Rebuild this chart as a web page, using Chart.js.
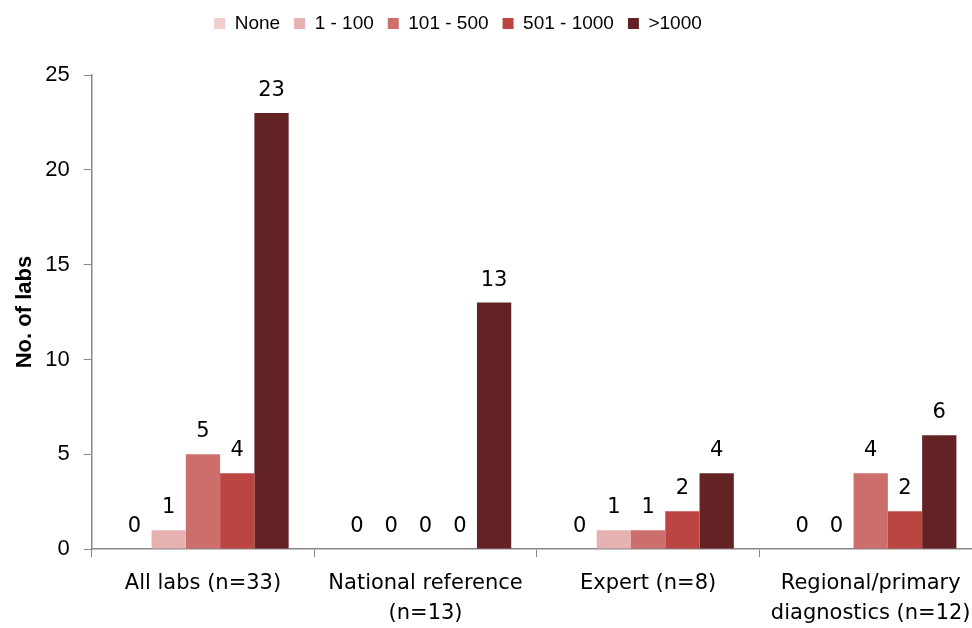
<!DOCTYPE html>
<html>
<head>
<meta charset="utf-8">
<script src="https://cdn.jsdelivr.net/npm/chart.js@4"></script>
<style>
  html, body { margin: 0; padding: 0; background: #fff; overflow: hidden; }
  #wrap { width: 990px; height: 640px; }
</style>
</head>
<body>
<div id="wrap"><canvas id="labsChart"></canvas></div>
<script>
const categories = [
  "All labs (n=33)",
  ["National reference", "(n=13)"],
  "Expert (n=8)",
  ["Regional/primary", "diagnostics (n=12)"]
];
const seriesNames = ["None", "1 - 100", "101 - 500", "501 - 1000", ">1000"];
const noneVals = [0, 0, 0, 0];
const upTo100 = [1, 0, 1, 0];
const upTo500 = [5, 0, 1, 4];
const upTo1000 = [4, 0, 2, 2];
const over1000 = [23, 13, 4, 6];
const yTicks = [0, 5, 10, 15, 20, 25];

const seriesColors = ["#f2cdcd", "#e6b1b0", "#cc6e6c", "#bc4542", "#632325"];
const seriesValues = [noneVals, upTo100, upTo500, upTo1000, over1000];

// writes each bar's value just above it (zeros included)
const valueLabels = {
  id: "valueLabels",
  afterDatasetsDraw(chart) {
    const ctx = chart.ctx;
    ctx.save();
    ctx.font = "21px 'DejaVu Sans'";
    ctx.fillStyle = "#000";
    ctx.textAlign = "center";
    ctx.textBaseline = "alphabetic";
    chart.data.datasets.forEach((ds, i) => {
      chart.getDatasetMeta(i).data.forEach((bar, j) => {
        ctx.fillText(String(ds.data[j]), bar.x, bar.y - 17);
      });
    });
    ctx.restore();
  }
};

// extra room under the legend, and nudge it left of centre
const legendTweak = {
  id: "legendTweak",
  beforeInit(chart) {
    const fit = chart.legend.fit;
    chart.legend.fit = function () {
      fit.call(this);
      this.height += 32;
    };
  },
  afterLayout(chart) {
    chart.legend.left -= 42;
    chart.legend.right -= 42;
  }
};

const ctx = document.getElementById("labsChart").getContext("2d");

new Chart(ctx, {
  type: "bar",
  data: {
    labels: categories,
    datasets: seriesNames.map((name, i) => ({
      label: name,
      data: seriesValues[i],
      backgroundColor: seriesColors[i],
      borderWidth: 0
    }))
  },
  options: {
    responsive: true,
    maintainAspectRatio: false,
    animation: false,
    layout: { padding: { top: 0, right: 8, bottom: 0, left: 18 } },
    categoryPercentage: 0.77,
    barPercentage: 1,
    plugins: {
      legend: {
        position: "top",
        labels: {
          boxWidth: 11,
          boxHeight: 11,
          padding: 14,
          color: "#000",
          font: { family: "'Liberation Sans'", size: 19 }
        }
      },
      tooltip: { enabled: false }
    },
    scales: {
      x: {
        grid: {
          offset: true,
          drawOnChartArea: false,
          drawTicks: true,
          tickLength: 8,
          color: "#888"
        },
        border: { color: "#888", width: 1.5 },
        ticks: {
          color: "#000",
          padding: 11,
          maxRotation: 0,
          font: { family: "'DejaVu Sans'", size: 21, lineHeight: 1.45 }
        }
      },
      y: {
        min: 0,
        max: 25,
        afterBuildTicks(axis) {
          axis.ticks = yTicks.map(v => ({ value: v }));
        },
        grid: {
          drawOnChartArea: false,
          drawTicks: true,
          tickLength: 8,
          color: "#888"
        },
        border: { color: "#888", width: 1.5 },
        ticks: {
          color: "#000",
          padding: 14,
          font: { family: "'Liberation Sans'", size: 22 }
        },
        title: {
          display: true,
          text: "No. of labs",
          color: "#000",
          padding: 0,
          font: { family: "'Liberation Sans'", size: 22, weight: "bold", lineHeight: 0.6 }
        }
      }
    }
  },
  plugins: [valueLabels, legendTweak]
});
</script>
</body>
</html>
